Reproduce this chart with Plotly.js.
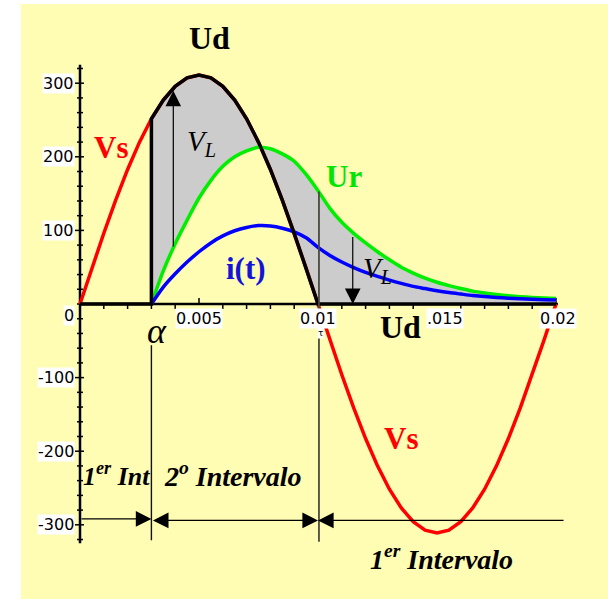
<!DOCTYPE html>
<html>
<head>
<meta charset="utf-8">
<script src="https://cdn.plot.ly/plotly-3.0.1.min.js"></script>
<style>html,body{margin:0;padding:0;background:#fff;}</style>
</head>
<body>
<div id="chart" style="width:608px;height:599px;"></div>
<script>
// Source voltage Vs over one 50 Hz period (t in s, V in volts)
const tVs = [0,0.0005,0.001,0.0015,0.002,0.0025,0.003,0.0035,0.004,0.0045,0.005,0.0055,0.006,0.0065,0.007,0.0075,0.008,0.0085,0.009,0.0095,0.01,
             0.0105,0.011,0.0115,0.012,0.0125,0.013,0.0135,0.014,0.0145,0.015,0.0155,0.016,0.0165,0.017,0.0175,0.018,0.0185,0.019,0.0195,0.02];
const vs = [0,48.7,96.1,141.2,182.8,219.9,251.6,277.1,295.8,307.2,311,307.2,295.8,277.1,251.6,219.9,182.8,141.2,96.1,48.7,0,
            -48.7,-96.1,-141.2,-182.8,-219.9,-251.6,-277.1,-295.8,-307.2,-311,-307.2,-295.8,-277.1,-251.6,-219.9,-182.8,-141.2,-96.1,-48.7,0];

// Firing instant (alpha) and end of the conduction interval
const tAlpha = 0.003;
const tOff = 0.01;

// Output voltage Ud: zero until alpha, follows Vs until 0.01, then clamped to zero
const tUd = [0,0.003,0.003,0.0035,0.004,0.0045,0.005,0.0055,0.006,0.0065,0.007,0.0075,0.008,0.0085,0.009,0.0095,0.01,0.02];
const ud  = [0,0,251.6,277.1,295.8,307.2,311,307.2,295.8,277.1,251.6,219.9,182.8,141.2,96.1,48.7,0,0];

// Load response from alpha to the end of the period
const tLoad = [0.003,0.0035,0.004,0.0045,0.005,0.0055,0.006,0.0065,0.007,0.0075,0.008,0.0085,0.009,0.0095,0.01,
               0.0105,0.011,0.0115,0.012,0.0125,0.013,0.0135,0.014,0.0145,0.015,0.0155,0.016,0.0165,0.017,0.0175,0.018,0.0185,0.019,0.0195,0.02];
const ur = [0,45,82,114,144,168,187,200,208,213,211,204,194,176,154,
            130,111,96,83,71,60,50,42,35,29.5,25,21,17.5,15,13,11.3,10,9,8.2,7.5];
const iLoad = [0,23,41,57,71,83,92.5,99.5,104,106.5,106,103,98,90,77,
               66,57,49.5,43,37.5,32.5,28,24,21,18,15.5,13.5,11.6,10.1,8.9,7.8,7,6.3,5.8,5.4];

// Axis ticks and labels
const yMajor = [-300,-200,-100,100,200,300];
const yMajorText = ['-300','-200','-100','100','200','300'];
const xMajor = [0.005,0.01,0.015,0.02];
const xMajorText = ['0.005','0.01','.015','0.02'];

// VL arrows: instants where the inductor voltage is marked
const tVL1 = 0.00392, tVL2 = 0.01146;

// ---- traces ----
// grey area between Ud and Ur (inductor voltage VL)
const fillX = [], fillY = [];
for (let k = 2; k < tUd.length; k++) { fillX.push(tUd[k]); fillY.push(ud[k]); }
for (let k = tLoad.length - 1; k >= 0; k--) { fillX.push(tLoad[k]); fillY.push(ur[k]); }

const traces = [
  {x: fillX, y: fillY, mode: 'lines', fill: 'toself', fillcolor: '#cccccc', line: {width: 0}, hoverinfo: 'skip'},
  {x: tVs, y: vs, mode: 'lines', line: {color: '#ff0000', width: 3.5}},
  {x: tLoad, y: ur, mode: 'lines', line: {color: '#00ee00', width: 3.5, shape: 'spline', smoothing: 0.8}},
  {x: tLoad, y: iLoad, mode: 'lines', line: {color: '#0000ff', width: 3.5, shape: 'spline', smoothing: 0.8}},
  {x: tUd, y: ud, mode: 'lines', line: {color: '#000000', width: 3.5}}
];

function interp(xs, ys, x) {
  for (let k = 0; k < xs.length - 1; k++) {
    if (x >= xs[k] && x <= xs[k + 1]) {
      const f = (x - xs[k]) / (xs[k + 1] - xs[k]);
      return ys[k] + f * (ys[k + 1] - ys[k]);
    }
  }
  return 0;
}

// ---- shapes: background, axes drawn through the origin, ticks, markers ----
const shapes = [];
shapes.push({type: 'rect', xref: 'paper', yref: 'paper', x0: 21 / 608, x1: 1, y0: 0, y1: 1 - 4 / 599,
             fillcolor: '#fffcb4', line: {width: 0}, layer: 'below'});
// y axis
shapes.push({type: 'line', xref: 'x', yref: 'y', x0: 0, x1: 0, y0: -325, y1: 325, line: {color: '#000', width: 2.5}, layer: 'below'});
// x axis
shapes.push({type: 'line', xref: 'x', yref: 'y', x0: 0, x1: 0.02008, y0: 0, y1: 0, line: {color: '#000', width: 2.5}, layer: 'below'});
// y ticks every 20
for (let v = -320; v <= 320; v += 20) {
  const major = (v % 100 === 0) && v !== 0;
  shapes.push({type: 'line', xref: 'x', yref: 'y', xsizemode: 'pixel', xanchor: 0,
               x0: major ? -5 : -3, x1: major ? 4 : 3, y0: v, y1: v,
               line: {color: '#000', width: 1.5}, layer: 'below'});
}
// x ticks every 0.001 (minor below, major above)
for (let k = 1; k <= 20; k++) {
  const t = k / 1000;
  const major = (k % 5 === 0);
  shapes.push({type: 'line', xref: 'x', yref: 'y', ysizemode: 'pixel', yanchor: 0,
               x0: t, x1: t, y0: major ? 0 : -1, y1: major ? 6 : -5,
               line: {color: '#000', width: 1.5}, layer: 'below'});
}
// alpha marker line (below the axis) and the 0.01 marker line
shapes.push({type: 'line', xref: 'x', yref: 'y', x0: tAlpha, x1: tAlpha, y0: -56, y1: -321,
             line: {color: '#111', width: 1.4}});
shapes.push({type: 'line', xref: 'x', yref: 'y', x0: tOff + 0.00004, x1: tOff + 0.00004, y0: interp(tLoad, ur, tOff) - 1, y1: -323,
             line: {color: '#4a4a40', width: 1.8}});

// ---- annotations ----
const ann = [];
const tickFont = {family: 'DejaVu Sans', size: 16, color: '#000'};
yMajor.forEach((v, k) => ann.push({x: 0, y: v, xref: 'x', yref: 'y', text: yMajorText[k], showarrow: false,
  xanchor: 'right', yanchor: 'middle', xshift: -5, bgcolor: '#ffffff', borderpad: 0, font: tickFont}));
ann.push({x: 0, y: 0, xref: 'x', yref: 'y', text: '0', showarrow: false, xanchor: 'right', yanchor: 'middle',
  xshift: -5, yshift: -11, bgcolor: '#ffffff', borderpad: 0, font: tickFont});
const xLabelNudge = {'.015': 8, '0.02': 2};
xMajor.forEach((t, k) => ann.push({x: t, y: 0, xref: 'x', yref: 'y', text: xMajorText[k], showarrow: false,
  xanchor: 'center', yanchor: 'middle', yshift: -14, xshift: xLabelNudge[xMajorText[k]] || 0,
  bgcolor: '#ffffff', borderpad: 0, font: tickFont}));
ann.push({x: tOff, y: 0, xref: 'x', yref: 'y', text: 'τ', showarrow: false, xanchor: 'center', yanchor: 'middle',
  yshift: -29, xshift: 2, bgcolor: '#ffffff', borderpad: 0, font: {family: 'DejaVu Sans', size: 9, color: '#000'}});

// curve names
const bold = (txt, color, x, y, size) => ({x: x, y: y, xref: 'x', yref: 'y', text: '<b>' + txt + '</b>', showarrow: false,
  xanchor: 'center', yanchor: 'middle', font: {family: 'Liberation Serif', size: size || 31, color: color}});
ann.push(bold('Ud', '#000000', 0.00542, 361, 32));
ann.push(bold('Vs', '#ff0000', 0.0013, 212));
ann.push(bold('Ur', '#00e600', 0.01109, 173));
ann.push(bold('i(t)', '#1414d8', 0.006975, 48));
ann.push(bold('Ud', '#000000', 0.01345, -31, 32));
ann.push(bold('Vs', '#ff0000', 0.01349, -183));

// VL labels
const vlFont = {family: 'Liberation Serif', size: 29, color: '#000'};
ann.push({x: 0.00440, y: 219, xref: 'x', yref: 'y', text: '<i>V<sub>L</sub></i>', showarrow: false,
  xanchor: 'left', yanchor: 'middle', font: vlFont});
ann.push({x: 0.01180, y: 46, xref: 'x', yref: 'y', text: '<i>V<sub>L</sub></i>', showarrow: false,
  xanchor: 'left', yanchor: 'middle', font: vlFont});
// alpha
ann.push({x: tAlpha, y: -37, xref: 'x', yref: 'y', text: '<i>α</i>', showarrow: false, xanchor: 'center', yanchor: 'middle',
  xshift: 6, font: {family: 'Liberation Serif', size: 36, color: '#000'}});

// interval captions
const capFont = {family: 'Liberation Serif', size: 28, color: '#000'};
ann.push({x: 0.00004, y: -231, xref: 'x', yref: 'y', text: '<b><i>1<sup>er</sup> Int</i></b>', showarrow: false,
  xanchor: 'left', yanchor: 'middle', font: {family: 'Liberation Serif', size: 26, color: '#000'}});
ann.push({x: 0.003445, y: -231, xref: 'x', yref: 'y', text: '<b><i>2<sup>o</sup> Intervalo</i></b>', showarrow: false,
  xanchor: 'left', yanchor: 'middle', font: capFont});
ann.push({x: 0.0121, y: -344, xref: 'x', yref: 'y', text: '<b><i>1<sup>er</sup> Intervalo</i></b>', showarrow: false,
  xanchor: 'left', yanchor: 'middle', font: capFont});

// arrows
const arrow = (x, y, ax, ay, side) => ({x: x, y: y, ax: ax, ay: ay, xref: 'x', yref: 'y', axref: 'x', ayref: 'y',
  text: '', showarrow: true, arrowhead: 2, startarrowhead: 2, arrowsize: 2.6, startarrowsize: 2.6,
  arrowwidth: 1.2, arrowcolor: '#000', arrowside: side || 'end'});
ann.push(arrow(tVL1, interp(tUd.slice(2), ud.slice(2), tVL1) - 3, tVL1, interp(tLoad, ur, tVL1)));
ann.push(arrow(tVL2, 0, tVL2, interp(tLoad, ur, tVL2) - 4));
ann.push(arrow(tAlpha, -292, 0, -292));
ann.push(arrow(tOff, -294, tAlpha, -294, 'end+start'));
ann.push(arrow(tOff, -294, 0.02038, -294));

const layout = {
  width: 608, height: 599, autosize: false,
  margin: {l: 0, r: 0, t: 0, b: 0, pad: 0},
  paper_bgcolor: '#ffffff', plot_bgcolor: 'rgba(0,0,0,0)',
  showlegend: false,
  xaxis: {range: [-0.0033613, 0.0221849], visible: false, fixedrange: true},
  yaxis: {range: [-400.8, 413.04], visible: false, fixedrange: true},
  shapes: shapes,
  annotations: ann
};

Plotly.newPlot('chart', traces, layout, {staticPlot: true, displayModeBar: false});
</script>
</body>
</html>
